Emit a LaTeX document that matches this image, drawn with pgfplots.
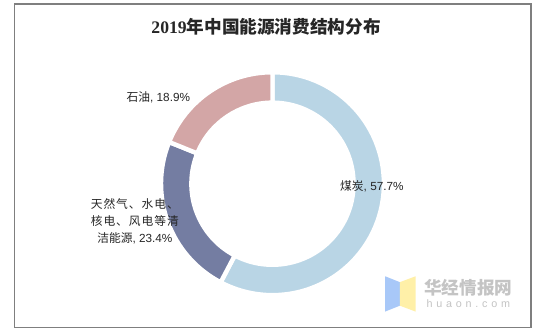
\documentclass[border=0pt]{standalone}
\usepackage{pgfplots}
\pgfplotsset{compat=1.18}
\usepackage{pgfplotstable}
\usepackage{fontspec}
\setmainfont{Liberation Sans}
\newfontfamily\cjk{Noto Sans CJK SC}
\newfontfamily\cjksp[LetterSpace=8]{Noto Sans CJK SC}
\newfontfamily\serifdig{Liberation Serif}
\definecolor{coal}{HTML}{B9D5E5}
\definecolor{clean}{HTML}{747DA2}
\definecolor{oil}{HTML}{D3A6A6}
\definecolor{txt}{HTML}{262626}
\definecolor{wm}{HTML}{C4C4C4}
\definecolor{logoblue}{HTML}{A8C8F8}
\definecolor{logoyellow}{HTML}{FFF0A8}
\pgfplotstableread{
name value
coal 57.7
clean 23.4
oil 18.9
}\energy
\newcommand\seg[3]{%
  \fill[#1, draw=white, line width=4.5pt]
    (axis cs:{267+113.75*cos(#2)},{150.5+113.75*sin(#2)})
    arc[start angle=#2, end angle=#3, radius=113.75pt]
    -- (axis cs:{267+82.75*cos(#3)},{150.5+82.75*sin(#3)})
    arc[start angle=#3, end angle=#2, radius=82.75pt] -- cycle;}
\newcommand\pct[1]{\pgfmathprintnumber[assume math mode=true,fixed,precision=1,fixed zerofill]{#1}\%}
\begin{document}
\pgfplotstablegetelem{0}{value}\of\energy \let\va\pgfplotsretval
\pgfplotstablegetelem{1}{value}\of\energy \let\vb\pgfplotsretval
\pgfplotstablegetelem{2}{value}\of\energy \let\vc\pgfplotsretval
\pgfmathsetmacro\aA{90}
\pgfmathsetmacro\aB{90-3.6*\va}
\pgfmathsetmacro\aC{\aB-3.6*\vb}
\pgfmathsetmacro\aD{\aC-3.6*\vc}
\begin{tikzpicture}
\begin{axis}[
  scale only axis, width=537pt, height=338pt,
  xmin=0, xmax=537, ymin=0, ymax=338,
  hide axis, clip=false]
\fill[white] (axis cs:0,0) rectangle (axis cs:537,338);
\draw[color={rgb,255:red,127;green,127;blue,127}, line width=1.3pt] (axis cs:3.5,4) rectangle (axis cs:531,334);
\seg{coal}{\aA}{\aB}
\seg{clean}{\aB}{\aC}
\seg{oil}{\aC}{\aD}
\node[txt, font=\fontsize{18}{20}\selectfont] at (axis cs:260.5,311)
  {{\serifdig\bfseries 2019}{\cjk\bfseries 年中国能源消费结构分布}};
\node[txt, font=\fontsize{12}{14}\selectfont] at (axis cs:150.5,239)
  {{\cjk 石油}, \pct{\vc}};
\node[txt, font=\fontsize{12}{17.5}\selectfont, align=center] at (axis cs:126.5,112)
  {{\cjksp 天然气、水电、}\\{\cjksp 核电、风电等清}\\{\cjk 洁能源}, \pct{\vb}};
\node[txt, font=\fontsize{12}{14}\selectfont] at (axis cs:368.5,148)
  {{\cjk 煤炭}, \pct{\va}};
\fill[logoblue] (axis cs:382,56) -- (axis cs:397,50) -- (axis cs:397,26) -- (axis cs:382,20) -- cycle;
\fill[logoyellow] (axis cs:397,50) -- (axis cs:413,56) -- (axis cs:413,20) -- (axis cs:397,26) -- cycle;
\node[wm, font=\fontsize{18}{20}\selectfont] at (axis cs:467,44) {\cjk\bfseries 华经情报网};
\node[wm, font=\fontsize{11}{12}\selectfont] at (axis cs:467,28) {\addfontfeature{LetterSpace=35}huaon.com};
\end{axis}
\end{tikzpicture}
\end{document}
